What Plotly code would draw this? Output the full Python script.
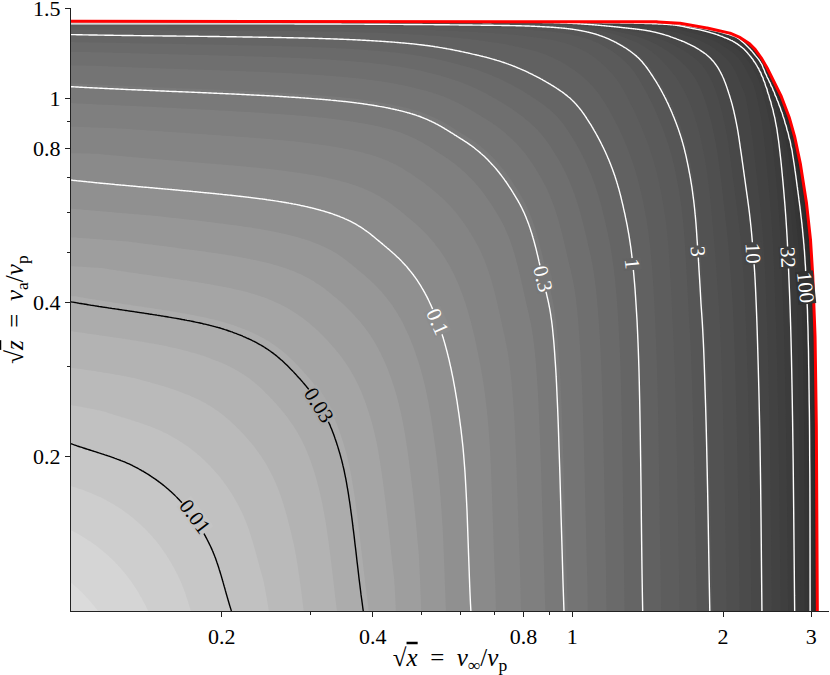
import numpy as np
import plotly.graph_objects as go

# ---------------- data ----------------
levels = [0.01, 0.03, 0.1, 0.3, 1, 3, 10, 32, 100]
level_text = ["0.01", "0.03", "0.1", "0.3", "1", "3", "10", "32", "100"]

# points along each labelled contour: u = sqrt(x), w = sqrt(z)
c001_u = [0.1, 0.1339, 0.1646, 0.1902, 0.209]
c001_w = [0.212, 0.1913, 0.1646, 0.1332, 0.1]
c003_u = [0.1, 0.204, 0.285, 0.3455, 0.383]
c003_w = [0.401, 0.3533, 0.285, 0.1995, 0.1]
c01_u = [0.1, 0.2882, 0.4281, 0.5349, 0.6023, 0.628]
c01_w = [0.693, 0.6181, 0.5102, 0.3745, 0.2192, 0.1]
c03_u = [0.1, 0.3756, 0.6037, 0.7795, 0.874, 0.9263, 0.963]
c03_w = [1.054, 0.9784, 0.8309, 0.6312, 0.4454, 0.301, 0.1]
c1_u = [0.1, 0.3729, 0.6461, 0.8979, 1.0774, 1.2531, 1.3488, 1.383]
c1_w = [1.332, 1.3006, 1.2151, 1.070, 0.9041, 0.6385, 0.3614, 0.1]
c3_u = [0.1, 0.314, 0.640, 0.862, 1.036, 1.189, 1.346, 1.462, 1.566, 1.655, 1.717, 1.756, 1.781, 1.806, 1.830, 1.856, 1.882]
c3_w = [1.398, 1.397, 1.390, 1.381, 1.357, 1.303, 1.207, 1.088, 0.959, 0.830, 0.709, 0.606, 0.506, 0.404, 0.3223, 0.2054, 0.1]
c10_u = [0.1, 0.6, 0.945, 1.285, 1.496, 1.717, 1.882, 1.988, 2.073, 2.130, 2.169, 2.219, 2.261, 2.292, 2.318, 2.340, 2.361, 2.377, 2.392]
c10_w = [1.409, 1.407, 1.404, 1.372, 1.339, 1.274, 1.201, 1.113, 0.994, 0.888, 0.794, 0.678, 0.592, 0.517, 0.442, 0.353, 0.2572, 0.1791, 0.1]
c32_u = [0.1, 0.5, 0.945, 1.496, 1.740, 1.882, 2.016, 2.160, 2.281, 2.389, 2.478, 2.547, 2.595, 2.643, 2.680, 2.705, 2.734, 2.759, 2.780]
c32_w = [1.412, 1.411, 1.408, 1.397, 1.369, 1.345, 1.315, 1.268, 1.201, 1.113, 1.003, 0.900, 0.794, 0.663, 0.553, 0.456, 0.3374, 0.2054, 0.1]
c100_u = [0.1, 0.5, 0.945, 1.496, 1.740, 1.882, 2.016, 2.160, 2.355, 2.434, 2.529, 2.643, 2.742, 2.818, 2.882, 2.925, 2.958, 2.978, 2.984]
c100_w = [1.4135, 1.413, 1.411, 1.405, 1.380, 1.361, 1.339, 1.303, 1.190, 1.113, 1.026, 0.913, 0.794, 0.663, 0.553, 0.456, 0.3374, 0.2054, 0.1]

# red boundary of the allowed region
bound_u = [0.1, 0.945, 1.496, 1.740, 1.882, 2.016, 2.160, 2.281, 2.389, 2.489, 2.595, 2.716, 2.818, 2.910, 2.978, 3.019, 3.054, 3.074, 3.085]
bound_w = [1.415, 1.415, 1.410, 1.388, 1.369, 1.351, 1.315, 1.268, 1.196, 1.113, 1.026, 0.913, 0.794, 0.663, 0.553, 0.456, 0.3374, 0.2054, 0.1]

# where each contour label sits
label_u = [0.177, 0.3125, 0.539, 0.874, 1.317, 1.781, 2.300, 2.700, 2.925]
label_w = [0.1532, 0.2513, 0.3677, 0.4454, 0.476, 0.502, 0.499, 0.490, 0.428]

x_ticks = [0.2, 0.4, 0.8, 1, 2, 3]
x_minor = [0.3, 0.5, 0.6, 0.7, 0.9]
y_ticks = [0.2, 0.4, 0.8, 1, 1.5]
y_minor = [0.3, 0.5, 0.6, 0.7, 0.9]
x_lim = [0.1, 3.255]
y_lim = [0.1, 1.5]

contour_u = [c001_u, c003_u, c01_u, c03_u, c1_u, c3_u, c10_u, c32_u, c100_u]
contour_w = [c001_w, c003_w, c01_w, c03_w, c1_w, c3_w, c10_w, c32_w, c100_w]

# ---------------- styles ----------------
FONT = "Liberation Serif, Times New Roman, serif"
label_angle = [53, 58, 66, 76, 84, 85, 87, 87, 84]
line_colors = ["black", "black"] + ["white"] * 7
shade_l = [-2.5625, -2, -1.5, -1, -0.5, 0, 0.5, 1, 1.5, 2, 2.5, 3.0625]
shade_g = [226, 196, 168, 141, 118, 99, 84, 70, 59, 50, 43, 38]
BAND = 0.125


# ---------------- helpers ----------------
def catmull(px, py, n=40):
    P = np.column_stack([px, py]).astype(float)
    P = np.vstack([2 * P[0] - P[1], P, 2 * P[-1] - P[-2]])
    t = np.linspace(0, 1, n, endpoint=False)[:, None]
    out = []
    for i in range(1, len(P) - 2):
        p0, p1, p2, p3 = P[i - 1], P[i], P[i + 1], P[i + 2]
        seg = 0.5 * ((2 * p1) + (-p0 + p2) * t + (2 * p0 - 5 * p1 + 4 * p2 - p3) * t ** 2
                     + (-p0 + 3 * p1 - 3 * p2 + p3) * t ** 3)
        out.append(seg)
    out.append(P[-2][None, :])
    return np.vstack(out)


def ray_profile(us, ws):
    d = catmull(np.log10(us), np.log10(ws))
    u, w = 10 ** d[:, 0], 10 ** d[:, 1]
    phi = np.arctan2(w, u)
    rho = np.hypot(u, w)
    o = np.argsort(phi)
    return phi[o], rho[o], d


def take(a, k):
    return np.take_along_axis(a, k[None], axis=0)[0]


# ---------------- field on a log grid ----------------
lx = np.unique(np.concatenate([np.linspace(np.log10(x_lim[0]), np.log10(x_lim[1]), 380),
                               np.linspace(0.44, 0.50, 61)]))
ly = np.unique(np.concatenate([np.linspace(np.log10(y_lim[0]), np.log10(y_lim[1]), 320),
                               np.linspace(0.125, 0.152, 136)]))
U = 10 ** lx[None, :] * np.ones((len(ly), 1))
W = 10 ** ly[:, None] * np.ones((1, len(lx)))
PHI = np.arctan2(W, U)
RHO = np.hypot(U, W)

R = []
for us, ws in zip(contour_u, contour_w):
    ph, rh, _ = ray_profile(us, ws)
    R.append(np.interp(PHI, ph, rh))
R = np.array(R)
phb, rhb, bdense = ray_profile(bound_u, bound_w)
Rb = np.interp(PHI, phb, rhb)
for i in range(1, len(R)):
    R[i] = np.maximum(R[i], R[i - 1] * 1.0004)
Rb = np.maximum(Rb, R[-1] * 1.0004)

# monotone cubic (pchip) of log10(level) against log10(radius) along every ray
lev = np.log10(levels)
N = len(lev)
LR = np.log10(R)
lr = np.log10(RHO)
h = np.diff(LR, axis=0)
dl = np.diff(lev)[:, None, None] / h
m = np.empty_like(LR)
m[0] = 2.0
for k in range(1, N - 1):
    w1 = 2 * h[k] + h[k - 1]
    w2 = h[k] + 2 * h[k - 1]
    m[k] = (w1 + w2) / (w1 / dl[k - 1] + w2 / dl[k])
m[N - 1] = np.minimum(R[-1] / (Rb - R[-1]), 3 * dl[N - 2])
kk = np.clip(np.sum(lr[None] >= LR, axis=0) - 1, 0, N - 2)
xk, hk = take(LR, kk), take(h, kk)
mk, mk1 = take(m, kk), take(m, kk + 1)
yk, yk1 = lev[kk], lev[kk + 1]
t = (lr - xk) / hk
h00 = 2 * t ** 3 - 3 * t ** 2 + 1
h10 = t ** 3 - 2 * t ** 2 + t
h01 = -2 * t ** 3 + 3 * t ** 2
h11 = t ** 3 - t ** 2
ell = yk * h00 + hk * mk * h10 + yk1 * h01 + hk * mk1 * h11
ell = np.where(lr < LR[0], lev[0] + 2.0 * (lr - LR[0]), ell)
tb = np.clip((RHO - R[-1]) / (Rb - R[-1]), 0, 0.9999)
ell = np.where(lr >= LR[-1], lev[-1] - np.log10(1 - tb), ell)
ell = np.where(RHO >= Rb, 3.4, ell)
ell = np.clip(ell, -2.6, 3.4)

# level index (labelled contours at integers)
q = np.interp(ell, lev, np.arange(N))
q = np.where(ell > lev[-1], N - 1 + (ell - lev[-1]), q)
q = np.where(ell < lev[0], (ell - lev[0]) * 2, q)

zlo, zhi = shade_l[0], shade_l[-1]
colorscale = [[(l - zlo) / (zhi - zlo), f"rgb({g},{g},{g})"] for l, g in zip(shade_l, shade_g)]

fig = go.Figure()
fig.add_trace(go.Contour(
    x=lx, y=ly, z=ell.astype(np.float32), colorscale=colorscale, zmin=zlo, zmax=zhi, zauto=False,
    autocontour=False, contours=dict(start=-2.5, end=3.0, size=BAND, coloring="fill", showlines=False),
    line=dict(width=0), showscale=False, hoverinfo="skip"))
fig.add_trace(go.Contour(
    x=lx, y=ly, z=q.astype(np.float32), autocontour=False,
    contours=dict(start=0, end=1, size=1, coloring="none"),
    line=dict(color="black", width=1.4), showscale=False, hoverinfo="skip"))
fig.add_trace(go.Contour(
    x=lx, y=ly, z=q.astype(np.float32), autocontour=False,
    contours=dict(start=2, end=8, size=1, coloring="none"),
    line=dict(color="white", width=1.4), showscale=False, hoverinfo="skip"))

# white region beyond the boundary, then the red boundary line
bx, by = bdense[:, 0], bdense[:, 1]
xr0, xr1 = np.log10(x_lim[0]), np.log10(x_lim[1])
yr0, yr1 = np.log10(y_lim[0]), np.log10(y_lim[1]) + 0.0003
px = np.concatenate([[xr0 - 0.05], bx, [bx[-1], xr1 + 0.05, xr1 + 0.05, xr0 - 0.05]])
py = np.concatenate([[by[0]], by, [yr0 - 0.05, yr0 - 0.05, yr1 + 0.05, yr1 + 0.05]])
fig.add_trace(go.Scatter(x=px, y=py, mode="lines", fill="toself", fillcolor="white",
                         line=dict(width=0, color="white"), hoverinfo="skip"))
fig.add_trace(go.Scatter(x=np.concatenate([[xr0 - 0.05], bx]), y=np.concatenate([[by[0]], by]),
                         mode="lines", line=dict(color="#ff0000", width=3), hoverinfo="skip"))

# contour labels
for i, txt in enumerate(level_text):
    g = int(round(np.interp(lev[i], shade_l, shade_g)))
    fig.add_annotation(x=np.log10(label_u[i]), y=np.log10(label_w[i]), text=txt, showarrow=False,
                       textangle=label_angle[i], bgcolor=f"rgb({g},{g},{g})", borderpad=0, height=17,
                       font=dict(family=FONT, size=21, color=line_colors[i]))

axis_common = dict(showgrid=False, zeroline=False, showline=True, linecolor="#222", linewidth=1.2,
                   ticks="outside", ticklen=5, tickwidth=1, tickcolor="#222", automargin=False,
                   ticklabeloverflow="allow",
                   tickfont=dict(family=FONT, size=22, color="black"))
sp = "\u2002"
fig.update_layout(
    width=830, height=675, margin=dict(l=71, r=1, t=8, b=64),
    paper_bgcolor="white", plot_bgcolor="white", showlegend=False,
    xaxis=dict(range=[xr0, xr1], tickvals=np.log10(x_ticks), ticktext=[f"{v:g}" for v in x_ticks],
               minor=dict(tickvals=np.log10(x_minor), ticklen=3, ticks="outside", tickcolor="#222", showgrid=False),
               title=dict(text=f"√<span style='text-decoration:overline'><i>x</i></span>{sp}={sp}<i>v</i><sub>∞</sub>/<i>v</i><sub>p</sub>",
                          font=dict(family=FONT, size=25, color="black"), standoff=2),
               **axis_common),
    yaxis=dict(range=[yr0, yr1], tickvals=np.log10(y_ticks), ticktext=[f"{v:g}" for v in y_ticks],
               minor=dict(tickvals=np.log10(y_minor), ticklen=3, ticks="outside", tickcolor="#222", showgrid=False),
               title=dict(text=f"√<span style='text-decoration:overline'><i>z</i></span>{sp}={sp}<i>v</i><sub>a</sub>/<i>v</i><sub>p</sub>",
                          font=dict(family=FONT, size=25, color="black"), standoff=2),
               **axis_common),
)
fig.write_html("out.html", config={"displayModeBar": False},
               post_script="document.body.style.margin='0px';document.body.style.overflow='hidden';")
